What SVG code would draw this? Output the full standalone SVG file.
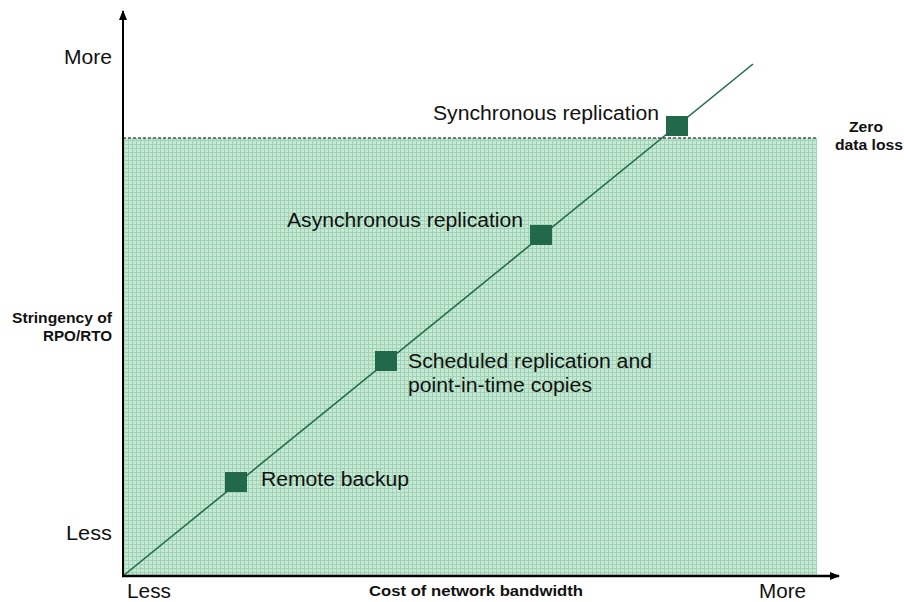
<svg xmlns="http://www.w3.org/2000/svg" width="904" height="602" viewBox="0 0 904 602">
<defs>
<pattern id="grid" width="4" height="4" patternUnits="userSpaceOnUse">
<rect width="4" height="4" fill="#c6e8d4"/>
<path d="M0 0.5H4M0.5 0V4" stroke="#9ed3b4" stroke-width="1"/>
</pattern>
<marker id="arr" markerWidth="10" markerHeight="8" refX="9" refY="4" orient="auto" markerUnits="userSpaceOnUse">
<path d="M0 0L10 4L0 8Z" fill="#000"/>
</marker>
</defs>
<style>
.lbl{font-family:"Liberation Sans",Arial,sans-serif;font-size:20px;fill:#111}
.bold{font-family:"Liberation Sans",Arial,sans-serif;font-weight:bold;font-size:14px;fill:#111}
.node rect{fill:#22684a}
</style>
<rect x="123" y="138" width="694" height="437" fill="url(#grid)"/>
<g id="connectors">
<line x1="123" y1="138" x2="818" y2="138" stroke="#000" stroke-width="1" stroke-dasharray="3,2"/>
<line x1="123" y1="576" x2="753" y2="64" stroke="#236b4c" stroke-width="1.6"/>
<line x1="123" y1="577" x2="123" y2="11" stroke="#000" stroke-width="2" marker-end="url(#arr)"/>
<line x1="122" y1="576" x2="839" y2="576" stroke="#000" stroke-width="2.5" marker-end="url(#arr)"/>
</g>
<g id="sync" class="node"><rect x="666" y="116" width="22" height="20"/><text class="lbl" x="433" y="120" textLength="226" lengthAdjust="spacingAndGlyphs">Synchronous replication</text></g>
<g id="async" class="node"><rect x="530" y="225" width="22" height="20"/><text class="lbl" x="287" y="227" textLength="236" lengthAdjust="spacingAndGlyphs">Asynchronous replication</text></g>
<g id="scheduled" class="node"><rect x="375" y="351" width="22" height="20"/><text class="lbl" x="408" y="368" textLength="244" lengthAdjust="spacingAndGlyphs">Scheduled replication and</text><text class="lbl" x="408" y="392" textLength="184" lengthAdjust="spacingAndGlyphs">point-in-time copies</text></g>
<g id="remote" class="node"><rect x="225" y="472" width="22" height="20"/><text class="lbl" x="261" y="486" textLength="148" lengthAdjust="spacingAndGlyphs">Remote backup</text></g>
<g id="axislabels">
<text class="lbl" x="64" y="64" textLength="48" lengthAdjust="spacingAndGlyphs">More</text>
<text class="lbl" x="66" y="540" textLength="46" lengthAdjust="spacingAndGlyphs">Less</text>
<text class="lbl" x="127" y="598" textLength="44" lengthAdjust="spacingAndGlyphs">Less</text>
<text class="lbl" x="759" y="598" textLength="47" lengthAdjust="spacingAndGlyphs">More</text>
<text class="bold" x="369" y="596" style="font-size:15px" textLength="214" lengthAdjust="spacingAndGlyphs">Cost of network bandwidth</text>
<text class="bold" x="12" y="323" textLength="100" lengthAdjust="spacingAndGlyphs">Stringency of</text>
<text class="bold" x="43" y="341" textLength="69" lengthAdjust="spacingAndGlyphs">RPO/RTO</text>
<text class="bold" x="849" y="132" textLength="34" lengthAdjust="spacingAndGlyphs">Zero</text>
<text class="bold" x="835" y="150" textLength="68" lengthAdjust="spacingAndGlyphs">data loss</text>
</g>
</svg>
